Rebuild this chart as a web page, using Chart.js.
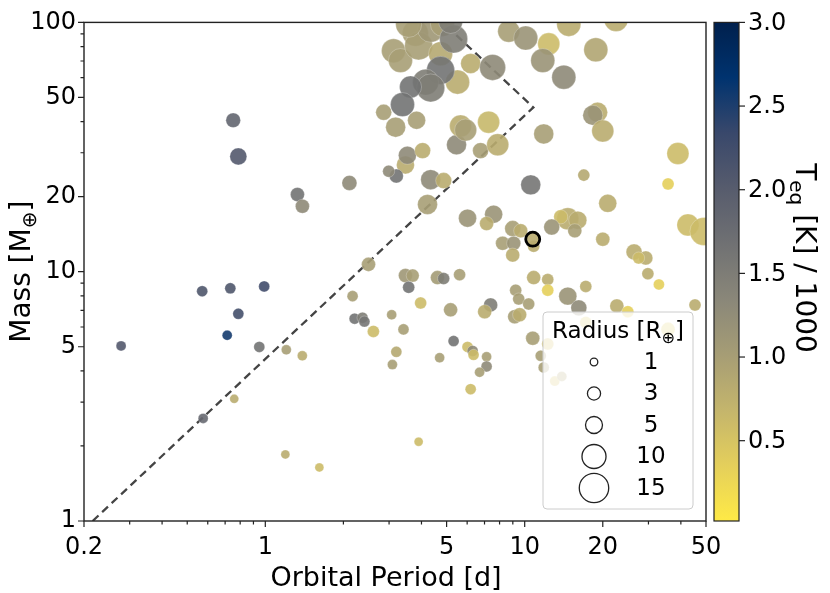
<!DOCTYPE html>
<html>
<head>
<meta charset="utf-8">
<script src="https://cdn.jsdelivr.net/npm/chart.js@4.4.0/dist/chart.umd.min.js"></script>
<style>
  html, body { margin: 0; background: #fff; }
</style>
</head>
<body>
<canvas id="chart" width="830" height="593"></canvas>
<script>
// planets: orbital period [d], mass [M_earth], radius [R_earth], Teq [K]/1000
const periods = [0.752, 0.787, 1.33, 1.39, 2.11, 2.50, 0.571, 0.733, 0.99, 0.787, 0.713, 0.278, 0.948, 1.205, 1.389, 0.759, 0.576, 1.195, 1.616,
  2.17, 2.21, 2.37, 2.41, 2.61, 3.07, 3.20, 3.09, 3.41, 3.47, 3.70, 3.57, 4.61, 4.87, 5.61, 3.97, 5.18, 7.39, 7.01, 9.23, 9.48, 10.36, 9.15, 9.56,
  10.83, 12.27, 12.27, 14.66, 16.17, 17.20, 22.66, 24.98, 29.85, 32.92, 45.34, 10.74, 5.32, 6.02, 6.30, 6.35, 4.70, 7.13, 7.13, 6.70, 6.19, 3.90,
  17.2, 35.7, 12.27, 11.53, 11.84, 13.06, 13.90,
  10.55, 16.9, 20.9, 35.7, 38.97, 42.6, 49.1, 14.66, 16.02, 13.77, 12.71, 15.6, 20.0, 26.4, 29.3, 27.5, 10.83, 8.99, 9.65, 7.59, 7.13, 6.02,
  8.22, 9.07, 8.99, 4.34, 4.87, 4.22, 3.47, 3.53, 3.20, 2.99, 4.04, 5.46, 6.76, 7.87, 11.84, 19.1, 18.3, 20.0, 2.86, 3.18, 3.83, 5.66, 5.92, 7.26,
  3.12, 3.32, 3.79, 3.90, 4.34, 4.74, 3.57, 4.82, 5.51, 5.32, 4.74, 4.15, 4.34, 3.63, 3.38, 6.19, 7.52, 8.68, 10.09, 12.38, 14.79, 11.74, 14.15,
  18.8, 22.5, 5.18];
const masses = [40.5, 29.0, 20.4, 18.3, 22.7, 10.7, 8.35, 8.58, 8.73, 6.78, 5.56, 5.04, 4.99, 4.86, 4.60, 3.09, 2.58, 1.85, 1.64,
  7.98, 6.48, 6.54, 6.31, 5.76, 6.72, 4.77, 4.24, 5.87, 9.65, 9.65, 8.66, 9.47, 9.39, 9.73, 7.49, 7.03, 7.36, 6.91, 8.43, 7.77, 7.42, 6.60, 6.72,
  9.47, 9.30, 8.43, 7.98, 7.16, 8.73, 7.29, 6.91, 9.82, 8.89, 7.36, 5.41, 5.27, 4.99, 4.81, 4.64, 4.52, 4.56, 4.17, 3.95, 3.38, 2.08,
  6.25, 5.87, 5.13, 4.60, 4.13, 3.64, 3.80,
  22.3, 24.4, 18.8, 22.5, 29.8, 15.4, 14.5, 16.3, 16.1, 16.6, 15.1, 14.6, 13.5, 12.0, 11.35, 11.35, 12.65, 14.9, 14.6, 17.0, 15.6, 16.4,
  13.0, 13.0, 11.66, 23.4, 23.2, 18.6, 26.8, 29.3, 24.2, 25.3, 30.6, 32.3, 30.6, 32.3, 35.7, 43.6, 42.4, 36.7, 43.6, 38.0, 40.5, 38.4, 37.0, 39.8,
  76.9, 70.3, 90.5, 80.5, 93.9, 74.9, 98.2, 98.2, 57.6, 85.8, 64.2, 57.6, 54.6, 55.1, 46.8, 68.4, 66.0, 92.2, 86.5, 82.0, 98.2, 70.3, 60.3,
  77.6, 102.7, 100.9];
const radii = [3.7, 5.0, 3.4, 3.4, 3.9, 3.4, 2.1, 2.1, 2.1, 2.1, 1.73, 1.73, 2.1, 1.73, 1.73, 1.4, 1.73, 1.4, 1.4,
  2.1, 2.1, 2.1, 2.1, 2.5, 1.73, 2.1, 1.73, 2.1, 3.4, 2.9, 2.5, 3.4, 2.5, 2.5, 2.5, 3.4, 3.4, 3.4, 2.5, 2.5, 2.5, 3.4, 3.4,
  3.4, 2.5, 2.5, 5.6, 4.4, 2.5, 3.4, 2.5, 2.5, 2.1, 2.5, 3.4, 2.1, 2.1, 2.1, 2.1, 1.73, 1.73, 2.1, 1.73, 2.1, 1.4,
  2.5, 3.4, 2.5, 2.1, 2.1, 1.73, 1.73,
  6.9, 2.5, 5.6, 2.5, 8.4, 8.4, 13.6, 8.4, 5.6, 3.4, 4.4, 3.4, 3.4, 4.4, 3.4, 2.5, 2.5, 4.4, 3.4, 5.6, 3.4, 5.6,
  3.4, 3.4, 3.4, 6.9, 4.4, 6.9, 5.6, 5.6, 3.4, 2.5, 4.4, 6.9, 4.4, 8.4, 6.9, 6.9, 6.9, 8.4, 4.4, 6.9, 5.6, 8.4, 8.4, 8.4,
  10, 10, 11.7, 13.6, 11.7, 10, 11.7, 10, 10, 13.6, 13.6, 11.7, 13.6, 8.4, 10, 6.9, 11.7, 8.4, 10, 8.4, 10, 10, 10,
  10, 10, 10];
const teqs = [1.85, 2.05, 1.65, 1.3, 1.3, 1.0, 2.1, 2.1, 2.25, 2.2, 2.55, 2.05, 1.65, 1.0, 0.8, 0.8, 1.8, 0.8, 0.6,
  1.0, 1.65, 1.5, 1.6, 0.6, 1.0, 0.85, 1.0, 1.0, 1.1, 1.0, 1.65, 1.05, 1.5, 1.0, 0.6, 1.0, 1.5, 0.8, 1.0, 1.0, 1.0, 1.0, 0.8,
  0.8, 0.8, 0.35, 1.15, 1.3, 0.8, 0.8, 0.35, 0.8, 0.35, 0.8, 1.0, 1.65, 0.6, 1.3, 0.6, 1.0, 1.0, 1.3, 1.0, 0.6, 0.6,
  0.4, 0.4, 0.5, 1.0, 1.0, 0.5, 0.9,
  1.6, 0.85, 0.8, 0.35, 0.6, 0.6, 0.6, 0.8, 0.8, 0.6, 1.15, 1.0, 0.8, 0.8, 0.8, 0.6, 0.8, 1.0, 0.8, 1.15, 0.8, 1.15,
  1.0, 1.15, 0.8, 1.3, 0.8, 1.0, 0.8, 1.3, 1.65, 1.3, 0.8, 1.3, 1.0, 0.8, 1.0, 0.8, 1.15, 0.8, 1.0, 1.0, 1.0, 0.8, 1.0, 0.65,
  1.0, 1.0, 1.0, 1.0, 1.1, 0.85, 1.0, 1.0, 0.8, 1.5, 1.65, 1.5, 1.5, 1.65, 1.65, 0.8, 1.3, 1.0, 1.15, 0.6, 0.8, 1.15, 1.3,
  0.9, 0.8, 1.5];

// highlighted planet
const markedPeriod = [10.74];
const markedMass = [13.5];
const markedRadius = [3.4];
const markedTeq = [0.8];

// dashed boundary
const boundaryPeriod = [0.216, 10.8, 4.83];
const boundaryMass = [1, 45.6, 100];

const xTicks = [0.2, 1, 5, 10, 20, 50];
const xMinor = [0.3, 0.4, 0.5, 0.6, 0.7, 0.8, 0.9, 2, 3, 4, 6, 7, 8, 9, 30, 40];
const yTicks = [1, 5, 10, 20, 50, 100];
const yMinor = [2, 3, 4, 6, 7, 8, 9, 30, 40, 60, 70, 80, 90];
const cbarTicks = [0.5, 1.0, 1.5, 2.0, 2.5, 3.0];
const legendRadii = [1, 3, 5, 10, 15];

const teqMin = 0.02, teqMax = 3.0;
const FONT = '"DejaVu Sans"';
const cividis = ['#00204d', '#00336f', '#39486b', '#575c6d', '#707173', '#8a8779', '#a69d75', '#c4b56c', '#e4cf5b', '#ffea46'];

function hexRgb(h) {
  return [1, 3, 5].map(i => parseInt(h.substr(i, 2), 16));
}

function teqColor(v, alpha) {
  let t = 1 - (v - teqMin) / (teqMax - teqMin);
  t = Math.min(1, Math.max(0, t)) * (cividis.length - 1);
  const i = Math.min(Math.floor(t), cividis.length - 2);
  const f = t - i;
  const a = hexRgb(cividis[i]), b = hexRgb(cividis[i + 1]);
  const c = a.map((ch, k) => Math.round(ch + (b[k] - ch) * f));
  return 'rgba(' + c[0] + ',' + c[1] + ',' + c[2] + ',' + alpha + ')';
}

const sizeOf = r => 3.8 * Math.sqrt(r);

// text with subscripts: parts = [[text, isSub], ...], y is the visual middle
function drawParts(ctx, parts, x, y, size, align) {
  const big = size + 'px ' + FONT;
  const small = Math.round(size * 0.7) + 'px ' + FONT;
  const widths = parts.map(([t, sub]) => { ctx.font = sub ? small : big; return ctx.measureText(t).width; });
  const total = widths.reduce((a, b) => a + b, 0);
  let cx = align === 'center' ? x - total / 2 : align === 'right' ? x - total : x;
  const base = y + size * 0.36;
  ctx.textAlign = 'left';
  ctx.textBaseline = 'alphabetic';
  parts.forEach(([t, sub], i) => {
    ctx.font = sub ? small : big;
    ctx.fillText(t, cx, base + (sub ? size * 0.2 : 0));
    cx += widths[i];
  });
}

const decor = {
  id: 'decor',
  afterDatasetsDraw(chart) {
    const { ctx, chartArea: a, scales: { x, y } } = chart;
    ctx.save();
    // axes frame
    ctx.strokeStyle = '#222';
    ctx.lineWidth = 1.4;
    ctx.strokeRect(a.left, a.top, a.right - a.left, a.bottom - a.top);
    // tick marks (outward)
    ctx.lineWidth = 1.2;
    ctx.beginPath();
    xTicks.concat(xMinor).forEach(v => {
      const px = x.getPixelForValue(v);
      const len = xTicks.includes(v) ? 6 : 3.5;
      ctx.moveTo(px, a.bottom); ctx.lineTo(px, a.bottom + len);
    });
    yTicks.concat(yMinor).forEach(v => {
      const py = y.getPixelForValue(v);
      const len = yTicks.includes(v) ? 6 : 3.5;
      ctx.moveTo(a.left, py); ctx.lineTo(a.left - len, py);
    });
    ctx.stroke();

    // size legend
    const bx = 543, by = 312, bw = 150, bh = 197, rr = 4;
    ctx.beginPath();
    ctx.moveTo(bx + rr, by);
    ctx.arcTo(bx + bw, by, bx + bw, by + bh, rr);
    ctx.arcTo(bx + bw, by + bh, bx, by + bh, rr);
    ctx.arcTo(bx, by + bh, bx, by, rr);
    ctx.arcTo(bx, by, bx + bw, by, rr);
    ctx.closePath();
    ctx.fillStyle = 'rgba(255,255,255,0.8)';
    ctx.fill();
    ctx.strokeStyle = '#cccccc';
    ctx.lineWidth = 1;
    ctx.stroke();
    ctx.fillStyle = '#000';
    drawParts(ctx, [['Radius [R', false], ['\u2295', true], [']', false]], 618, 330, 23, 'center');
    legendRadii.forEach((r, i) => {
      const cy = 362 + i * 31.5;
      ctx.beginPath();
      ctx.arc(594, cy, sizeOf(r), 0, Math.PI * 2);
      ctx.strokeStyle = '#222';
      ctx.lineWidth = 1.3;
      ctx.stroke();
      ctx.fillStyle = '#000';
      ctx.font = '23px ' + FONT;
      ctx.textAlign = 'center';
      ctx.textBaseline = 'middle';
      ctx.fillText(String(r), 651, cy + 1);
    });
    ctx.restore();
  },
  afterDraw(chart) {
    const { ctx, chartArea: a } = chart;
    ctx.save();
    // colorbar
    const cx0 = 714, cw = 25, top = a.top, bot = a.bottom;
    const g = ctx.createLinearGradient(0, top, 0, bot);
    cividis.forEach((c, i) => g.addColorStop(i / (cividis.length - 1), c));
    ctx.fillStyle = g;
    ctx.fillRect(cx0, top, cw, bot - top);
    ctx.strokeStyle = '#222';
    ctx.lineWidth = 1.2;
    ctx.strokeRect(cx0, top, cw, bot - top);
    ctx.fillStyle = '#000';
    ctx.font = '24px ' + FONT;
    ctx.textAlign = 'left';
    ctx.textBaseline = 'middle';
    cbarTicks.forEach(v => {
      const py = bot - (v - teqMin) / (teqMax - teqMin) * (bot - top);
      ctx.beginPath();
      ctx.moveTo(cx0 + cw, py); ctx.lineTo(cx0 + cw + 6, py);
      ctx.stroke();
      ctx.fillText(v.toFixed(1), cx0 + cw + 9, py + 1);
    });
    // colorbar label
    ctx.save();
    ctx.translate(806, 258);
    ctx.rotate(Math.PI / 2);
    drawParts(ctx, [['T', false], ['eq', true], [' [K] / 1000', false]], 0, 0, 28, 'center');
    ctx.restore();
    // axis titles
    drawParts(ctx, [['Orbital Period [d]', false]], 386, 576, 27, 'center');
    ctx.save();
    ctx.translate(20, (a.top + a.bottom) / 2);
    ctx.rotate(-Math.PI / 2);
    drawParts(ctx, [['Mass [M', false], ['\u2295', true], [']', false]], 0, 0, 28, 'center');
    ctx.restore();
    ctx.restore();
  }
};

new Chart(document.getElementById('chart'), {
  type: 'scatter',
  data: {
    datasets: [
      {
        data: markedPeriod.map((p, i) => ({ x: p, y: markedMass[i] })),
        backgroundColor: markedTeq.map(v => teqColor(v, 0.9)),
        pointRadius: markedRadius.map(sizeOf),
        pointBorderColor: '#000',
        pointBorderWidth: 2.8,
        order: 1
      },
      {
        data: periods.map((p, i) => ({ x: p, y: masses[i] })),
        backgroundColor: teqs.map(v => teqColor(v, 0.9)),
        pointRadius: radii.map(sizeOf),
        pointBorderColor: 'rgba(255,255,255,0.5)',
        pointBorderWidth: 0.5,
        order: 2
      },
      {
        type: 'line',
        data: boundaryPeriod.map((p, i) => ({ x: p, y: boundaryMass[i] })),
        borderColor: '#444',
        borderWidth: 2.3,
        borderDash: [8, 5],
        pointRadius: 0,
        fill: false,
        tension: 0,
        order: 3
      }
    ]
  },
  options: {
    responsive: false,
    animation: false,
    layout: { padding: { top: 11, right: 124, left: 0, bottom: 0 } },
    plugins: { legend: { display: false }, tooltip: { enabled: false } },
    scales: {
      x: {
        type: 'logarithmic',
        position: 'bottom',
        min: 0.2,
        max: 50,
        grid: { display: false, drawTicks: false, tickLength: 0 },
        border: { display: false },
        afterBuildTicks: s => { s.ticks = xTicks.map(v => ({ value: v })); },
        afterFit: s => { s.height = 72; },
        ticks: {
          autoSkip: false,
          maxRotation: 0,
          padding: 12,
          color: '#000',
          font: { family: 'DejaVu Sans', size: 24 },
          callback: v => String(v)
        }
      },
      y: {
        type: 'logarithmic',
        min: 1,
        max: 100,
        grid: { display: false, drawTicks: false, tickLength: 0 },
        border: { display: false },
        afterBuildTicks: s => { s.ticks = yTicks.map(v => ({ value: v })); },
        afterFit: s => { s.width = 84; },
        ticks: {
          autoSkip: false,
          padding: 8,
          color: '#000',
          font: { family: 'DejaVu Sans', size: 24 },
          callback: v => String(v)
        }
      }
    }
  },
  plugins: [decor]
});
</script>
</body>
</html>
